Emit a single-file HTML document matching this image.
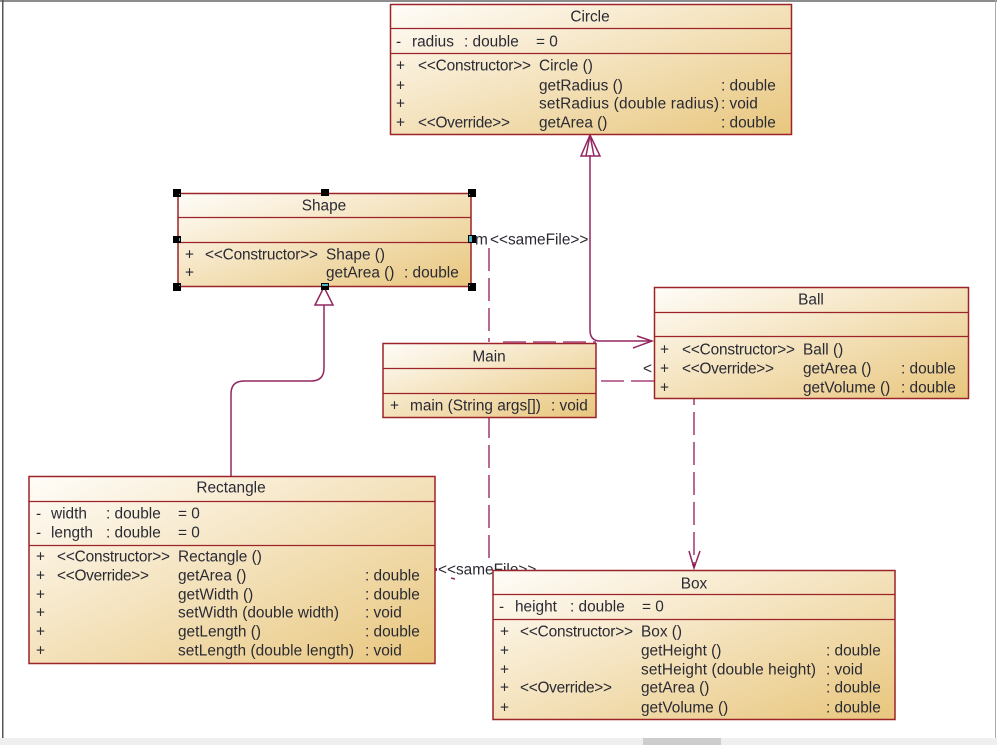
<!DOCTYPE html>
<html>
<head>
<meta charset="utf-8">
<style>
html,body{margin:0;padding:0;background:#fff;width:997px;height:745px;overflow:hidden}
svg{display:block}
text{font-family:"Liberation Sans",sans-serif;font-size:15.4px;fill:#2a2a33;transform:translateY(.7px)}
.b{stroke:#9c2328;stroke-width:1.5;fill:url(#g)}
.d{stroke:#9c2328;stroke-width:1.3;fill:none}
.c{stroke:#932660;stroke-width:1.5;fill:none}
.dash{stroke:#a8447a;stroke-width:1.6;fill:none;stroke-dasharray:23 7}
.m{text-anchor:middle}
</style>
</head>
<body>
<svg width="997" height="745" viewBox="0 0 997 745" xmlns="http://www.w3.org/2000/svg">
<defs>
<linearGradient id="g" x1="0" y1="0" x2="1" y2="1">
<stop offset="0" stop-color="#fffdf9"/>
<stop offset="1" stop-color="#e8c67d"/>
</linearGradient>
</defs>

<!-- window frame -->
<rect x="0" y="0" width="997" height="745" fill="#fff"/>
<rect x="0" y="0" width="997" height="2" fill="#8c8c8c"/>
<rect x="2" y="0" width="1.5" height="738" fill="#555"/>
<rect x="995" y="0" width="1" height="738" fill="#aaa"/>
<rect x="0" y="738" width="997" height="7" fill="#efefef"/>
<rect x="643" y="738" width="78" height="7" fill="#cdcdcd"/>

<!-- connectors -->
<path class="c" d="M590 155V330Q590 341 600 341H652"/>
<path class="c" d="M637 336L652 341L633 348"/>
<path class="c" d="M590 135L581 156H600Z M590 135L586 156 M590 135L594 156"/>
<path class="c" d="M324 305V368Q324 381 311 381H244Q231 381 231 394V476"/>
<path d="M324 287L315 305H333Z" fill="#fff" stroke="#932660" stroke-width="1.5"/>
<path class="dash" d="M489 248V342"/>
<path class="dash" d="M503 342H596"/>
<path class="dash" d="M489 415V560"/>
<path class="dash" d="M601 381H654"/>
<path class="dash" stroke-dashoffset="16" d="M694 398V566"/>
<path class="c" d="M689 551L694 568L700 551"/>
<path d="M692 564H696L694 569Z" fill="#8a1c55"/>
<path class="c" d="M451 578L455 579"/>
<rect x="435" y="568" width="2" height="3" fill="#932660"/>
<text x="475" y="244">m</text>
<text x="490" y="244">&lt;&lt;sameFile&gt;&gt;</text>
<text x="438" y="574">&lt;&lt;sameFile&gt;&gt;</text>
<text x="643" y="373">&lt;</text>

<!-- Circle -->
<rect class="b" x="390.5" y="4.5" width="401" height="130"/>
<path class="d" d="M391 28.5H791M391 53.5H791"/>
<text class="m" x="590" y="21">Circle</text>
<text x="396" y="46">-</text><text x="412" y="46">radius</text><text x="464" y="46">: double</text><text x="536" y="46">= 0</text>
<text x="396" y="70">+</text><text x="418" y="70" textLength="113">&lt;&lt;Constructor&gt;&gt;</text><text x="539" y="70">Circle ()</text>
<text x="396" y="90">+</text><text x="539" y="90">getRadius ()</text><text x="721" y="90">: double</text>
<text x="396" y="108">+</text><text x="539" y="108" textLength="180">setRadius (double radius)</text><text x="721" y="108">: void</text>
<text x="396" y="127">+</text><text x="418" y="127" textLength="92">&lt;&lt;Override&gt;&gt;</text><text x="539" y="127">getArea ()</text><text x="721" y="127">: double</text>

<!-- Shape -->
<rect class="b" x="178" y="193.5" width="293" height="93"/>
<path class="d" d="M178 217.5H471M178 242.5H471"/>
<text class="m" x="324" y="210">Shape</text>
<text x="185" y="259">+</text><text x="205" y="259" textLength="113">&lt;&lt;Constructor&gt;&gt;</text><text x="326" y="259">Shape ()</text>
<text x="185" y="277">+</text><text x="326" y="277">getArea ()</text><text x="404" y="277">: double</text>
<g fill="#000">
<rect x="173" y="189" width="8" height="8"/><rect x="321" y="189" width="8" height="7"/><rect x="468" y="189" width="8" height="8"/>
<rect x="173" y="236" width="8" height="7"/><rect x="468" y="235" width="8" height="8"/>
<rect x="173" y="283" width="8" height="8"/><rect x="321" y="283" width="8" height="7"/><rect x="468" y="283" width="8" height="8"/>
</g>
<g fill="#4fb6c8">
<rect x="179" y="194" width="1" height="1"/><rect x="469" y="194" width="1" height="1"/>
<rect x="179" y="238" width="1" height="3"/><rect x="469" y="236" width="3" height="6"/>
<rect x="179" y="285" width="1" height="1"/><rect x="322" y="284" width="6" height="2"/><rect x="469" y="285" width="1" height="1"/>
</g>

<!-- Main -->
<rect class="b" x="383" y="343.5" width="213" height="74"/>
<path class="d" d="M383 368.5H596M383 393.5H596"/>
<text class="m" x="489" y="361">Main</text>
<text x="390" y="410">+</text><text x="410" y="410">main (String args[])</text><text x="551" y="410">: void</text>

<!-- Ball -->
<rect class="b" x="654.5" y="287.5" width="314" height="111"/>
<path class="d" d="M655 312.5H968M655 336.5H968"/>
<text class="m" x="811" y="304">Ball</text>
<text x="660" y="354">+</text><text x="682" y="354" textLength="113">&lt;&lt;Constructor&gt;&gt;</text><text x="803" y="354">Ball ()</text>
<text x="660" y="373">+</text><text x="682" y="373" textLength="92">&lt;&lt;Override&gt;&gt;</text><text x="803" y="373">getArea ()</text><text x="901" y="373">: double</text>
<text x="660" y="392">+</text><text x="803" y="392">getVolume ()</text><text x="901" y="392">: double</text>

<!-- Rectangle -->
<rect class="b" x="29" y="476.5" width="406" height="187"/>
<path class="d" d="M29 501.5H435M29 545.5H435"/>
<text class="m" x="231" y="492">Rectangle</text>
<text x="36" y="518">-</text><text x="51" y="518">width</text><text x="106" y="518">: double</text><text x="178" y="518">= 0</text>
<text x="36" y="537">-</text><text x="51" y="537">length</text><text x="106" y="537">: double</text><text x="178" y="537">= 0</text>
<text x="36" y="561">+</text><text x="57" y="561" textLength="113">&lt;&lt;Constructor&gt;&gt;</text><text x="178" y="561">Rectangle ()</text>
<text x="36" y="580">+</text><text x="57" y="580" textLength="92">&lt;&lt;Override&gt;&gt;</text><text x="178" y="580">getArea ()</text><text x="365" y="580">: double</text>
<text x="36" y="599">+</text><text x="178" y="599">getWidth ()</text><text x="365" y="599">: double</text>
<text x="36" y="617">+</text><text x="178" y="617" textLength="161">setWidth (double width)</text><text x="365" y="617">: void</text>
<text x="36" y="636">+</text><text x="178" y="636">getLength ()</text><text x="365" y="636">: double</text>
<text x="36" y="655">+</text><text x="178" y="655" textLength="176">setLength (double length)</text><text x="365" y="655">: void</text>

<!-- Box -->
<rect class="b" x="493" y="570.5" width="402" height="149"/>
<path class="d" d="M493 594.5H895M493 619.5H895"/>
<text class="m" x="694" y="588">Box</text>
<text x="499" y="611">-</text><text x="515" y="611">height</text><text x="570" y="611">: double</text><text x="642" y="611">= 0</text>
<text x="500" y="636">+</text><text x="520" y="636" textLength="113">&lt;&lt;Constructor&gt;&gt;</text><text x="641" y="636">Box ()</text>
<text x="500" y="655">+</text><text x="641" y="655">getHeight ()</text><text x="826" y="655">: double</text>
<text x="500" y="674">+</text><text x="641" y="674" textLength="175">setHeight (double height)</text><text x="826" y="674">: void</text>
<text x="500" y="692">+</text><text x="520" y="692" textLength="92">&lt;&lt;Override&gt;&gt;</text><text x="641" y="692">getArea ()</text><text x="826" y="692">: double</text>
<text x="500" y="712">+</text><text x="641" y="712">getVolume ()</text><text x="826" y="712">: double</text>
</svg>
</body>
</html>
